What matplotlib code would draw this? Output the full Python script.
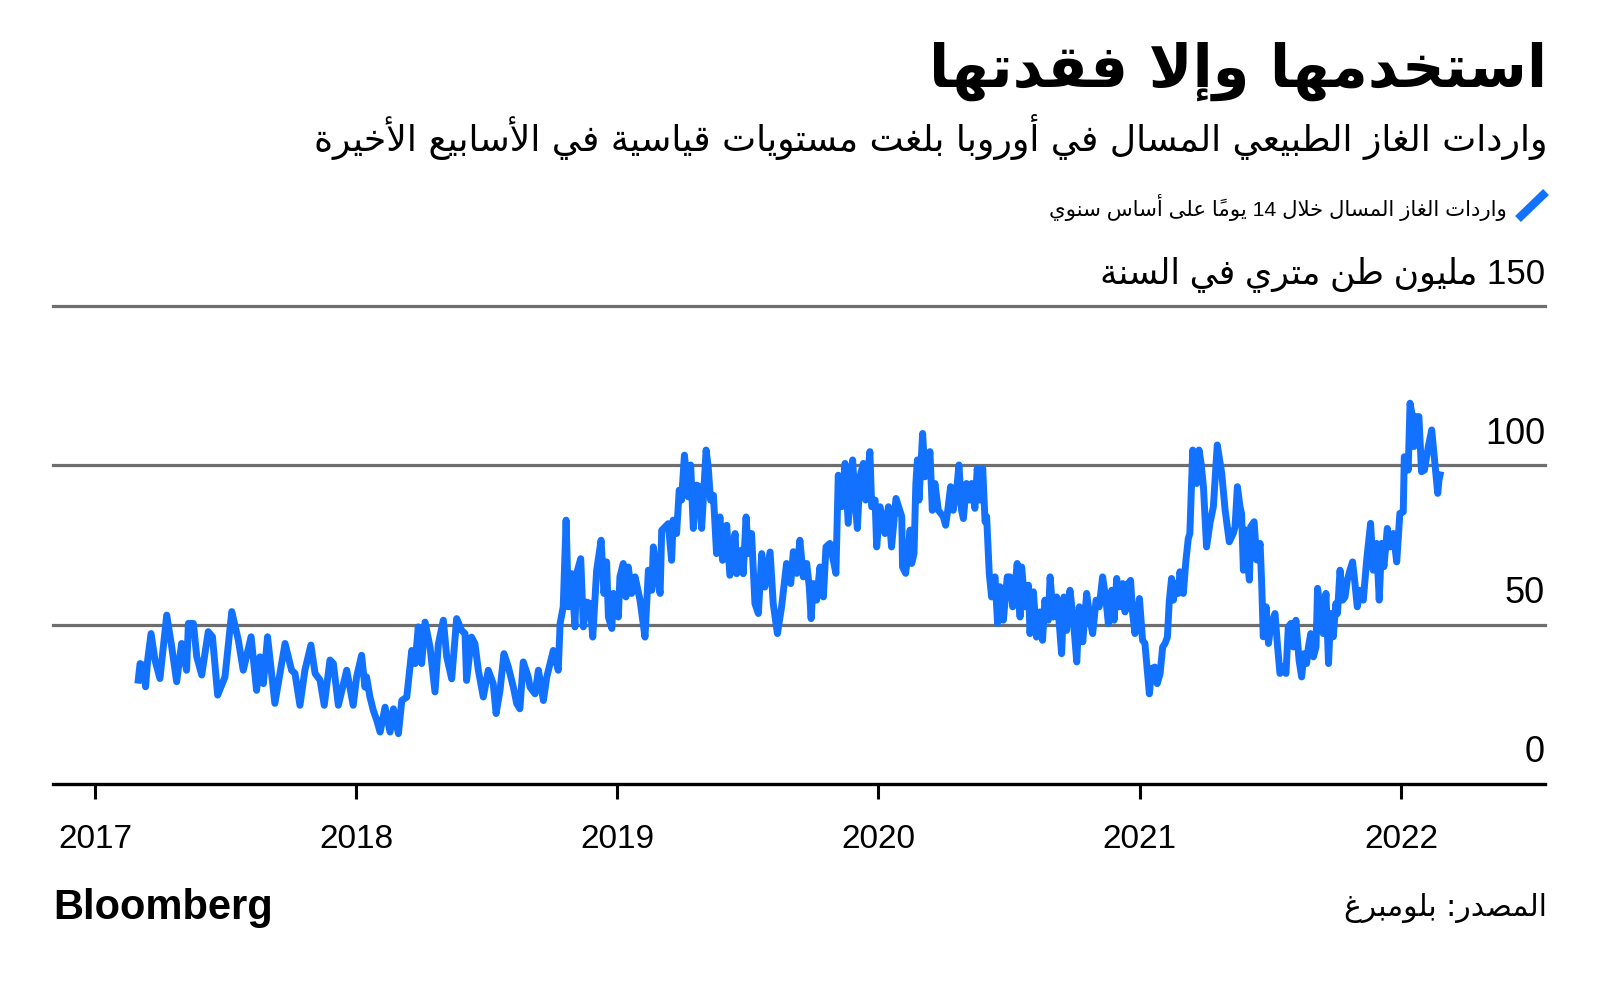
import matplotlib
matplotlib.use("Agg")
import matplotlib.pyplot as plt
import matplotlib.transforms as mtransforms
from matplotlib.lines import Line2D

# Данные: годы (десятичные) и значения, млн т в год
d17 = [2017.166, 2017.173, 2017.185, 2017.194, 2017.202, 2017.215, 2017.230, 2017.249, 2017.275, 2017.294,
       2017.313, 2017.332, 2017.351, 2017.358, 2017.377, 2017.390, 2017.409, 2017.434, 2017.450, 2017.470,
       2017.498, 2017.524, 2017.549, 2017.568, 2017.598, 2017.619, 2017.632, 2017.645, 2017.661, 2017.689,
       2017.728, 2017.753, 2017.766, 2017.785, 2017.804, 2017.827, 2017.843, 2017.862, 2017.878, 2017.900,
       2017.913, 2017.932, 2017.964, 2017.989]
v17 = [32.6, 37.8, 37.3, 30.5, 38.9, 47.2, 38.9, 33.1, 53.0, 43.1,
       32.1, 44.1, 35.7, 50.4, 50.4, 39.9, 34.2, 47.8, 46.2, 27.9,
       33.6, 54.1, 45.2, 35.7, 46.2, 29.4, 39.9, 31.5, 46.2, 25.3,
       44.1, 35.7, 34.7, 24.7, 35.7, 43.6, 34.7, 32.6, 24.7, 38.9,
       37.8, 24.7, 35.7, 24.7]

d18 = [2018.002, 2018.021, 2018.034, 2018.040, 2018.053, 2018.066, 2018.079, 2018.092, 2018.111, 2018.130,
       2018.143, 2018.162, 2018.175, 2018.194, 2018.213, 2018.226, 2018.238, 2018.251, 2018.264, 2018.283,
       2018.302, 2018.315, 2018.334, 2018.347, 2018.366, 2018.385, 2018.404, 2018.417, 2018.423, 2018.442,
       2018.455, 2018.468, 2018.487, 2018.506, 2018.525, 2018.536, 2018.551, 2018.566, 2018.583, 2018.602,
       2018.615, 2018.627, 2018.640, 2018.659, 2018.666, 2018.685, 2018.698, 2018.717, 2018.730, 2018.755,
       2018.774, 2018.781, 2018.793, 2018.804, 2018.813, 2018.825, 2018.838, 2018.844, 2018.860, 2018.870,
       2018.883, 2018.896, 2018.906, 2018.921, 2018.938, 2018.949, 2018.959, 2018.966, 2018.979, 2018.985]
v18 = [33.6, 40.4, 30.4, 33.6, 27.3, 23.1, 20.0, 16.3, 24.1, 16.3,
       23.6, 15.8, 26.2, 27.3, 41.9, 37.8, 49.3, 37.8, 50.8, 43.0,
       28.9, 44.0, 51.4, 39.9, 33.0, 51.9, 48.2, 47.2, 32.5, 46.1,
       44.0, 35.7, 27.3, 35.7, 31.5, 22.1, 29.4, 40.9, 36.7, 30.4,
       25.2, 23.6, 38.3, 33.6, 30.4, 28.3, 35.7, 26.2, 33.6, 41.9,
       35.7, 50.3, 55.6, 82.8, 55.6, 66.0, 49.3, 66.0, 70.7, 49.3,
       57.1, 56.6, 46.1, 67.1, 76.5, 59.8, 69.7, 52.4, 48.8, 59.8]

d19 = [2019.004, 2019.010, 2019.023, 2019.033, 2019.042, 2019.055, 2019.068, 2019.087, 2019.106, 2019.119,
       2019.132, 2019.138, 2019.151, 2019.164, 2019.170, 2019.183, 2019.195, 2019.208, 2019.214, 2019.227,
       2019.237, 2019.246, 2019.257, 2019.272, 2019.281, 2019.291, 2019.304, 2019.314, 2019.323, 2019.329,
       2019.340, 2019.348, 2019.357, 2019.368, 2019.380, 2019.393, 2019.403, 2019.419, 2019.431, 2019.451,
       2019.457, 2019.476, 2019.482, 2019.493, 2019.502, 2019.514, 2019.527, 2019.540, 2019.553, 2019.565,
       2019.585, 2019.597, 2019.613, 2019.629, 2019.648, 2019.664, 2019.674, 2019.687, 2019.699, 2019.712,
       2019.725, 2019.735, 2019.742, 2019.750, 2019.763, 2019.776, 2019.789, 2019.799, 2019.814, 2019.827,
       2019.837, 2019.846, 2019.859, 2019.872, 2019.884, 2019.901, 2019.910, 2019.919, 2019.929, 2019.942,
       2019.951, 2019.967, 2019.974, 2019.987, 2019.993]
v19 = [52.4, 65.0, 69.2, 58.7, 68.1, 59.8, 65.0, 57.7, 46.1, 67.1,
       60.8, 74.4, 66.0, 59.8, 79.6, 80.7, 81.7, 70.2, 82.8, 78.6,
       92.2, 89.1, 103.2, 90.1, 100.1, 80.2, 93.8, 93.3, 80.2, 89.1,
       104.8, 99.5, 89.1, 90.6, 72.3, 83.8, 70.2, 81.2, 65.5, 78.6,
       66.0, 73.4, 66.0, 83.8, 72.3, 78.6, 56.6, 53.5, 72.3, 61.8,
       72.8, 56.6, 47.2, 55.6, 69.2, 62.9, 72.9, 66.1, 76.5, 65.0,
       69.2, 61.9, 51.9, 62.9, 57.7, 68.1, 58.7, 74.4, 75.5, 70.2,
       66.1, 96.9, 87.0, 100.6, 81.8, 101.7, 89.1, 80.2, 96.4, 100.6,
       89.1, 104.3, 87.0, 89.1, 74.4]

d20 = [2020.006, 2020.025, 2020.038, 2020.050, 2020.067, 2020.089, 2020.092, 2020.104, 2020.121, 2020.127,
       2020.136, 2020.143, 2020.149, 2020.155, 2020.169, 2020.178, 2020.187, 2020.197, 2020.206, 2020.216,
       2020.229, 2020.248, 2020.257, 2020.267, 2020.276, 2020.286, 2020.299, 2020.308, 2020.318, 2020.325,
       2020.337, 2020.348, 2020.357, 2020.369, 2020.378, 2020.388, 2020.399, 2020.408, 2020.414, 2020.424,
       2020.433, 2020.446, 2020.456, 2020.465, 2020.478, 2020.493, 2020.503, 2020.514, 2020.523, 2020.531,
       2020.542, 2020.548, 2020.561, 2020.574, 2020.580, 2020.593, 2020.605, 2020.618, 2020.628, 2020.637,
       2020.650, 2020.657, 2020.669, 2020.682, 2020.692, 2020.701, 2020.710, 2020.720, 2020.733, 2020.746,
       2020.759, 2020.769, 2020.782, 2020.797, 2020.810, 2020.820, 2020.833, 2020.845, 2020.858, 2020.871,
       2020.880, 2020.893, 2020.902, 2020.912, 2020.922, 2020.935, 2020.944, 2020.956, 2020.965, 2020.973,
       2020.982, 2020.999]
v20 = [87.0, 78.6, 87.0, 74.4, 89.6, 83.9, 68.1, 66.1, 79.7, 69.2,
       72.3, 94.3, 101.7, 89.1, 110.0, 96.4, 99.6, 104.3, 85.9, 94.3,
       85.9, 83.9, 81.2, 87.0, 93.3, 85.9, 92.2, 100.1, 85.9, 83.3,
       94.3, 89.1, 94.3, 86.5, 99.0, 89.1, 99.0, 82.3, 83.9, 66.1,
       58.7, 65.0, 50.4, 61.9, 51.4, 65.0, 65.0, 55.6, 61.9, 69.2,
       52.4, 68.1, 55.6, 62.4, 47.2, 60.3, 46.1, 54.0, 45.1, 57.7,
       51.4, 65.0, 52.4, 58.7, 50.3, 40.9, 58.7, 48.2, 60.8, 51.4,
       38.3, 55.6, 44.6, 59.8, 51.4, 47.2, 57.7, 55.6, 65.0, 57.7,
       50.3, 60.8, 51.4, 64.5, 55.6, 62.9, 54.0, 62.9, 63.9, 53.5,
       47.2, 58.2]

d21 = [2021.011, 2021.020, 2021.029, 2021.037, 2021.046, 2021.058, 2021.067, 2021.078, 2021.088, 2021.097,
       2021.106, 2021.113, 2021.122, 2021.129, 2021.139, 2021.148, 2021.154, 2021.167, 2021.177, 2021.186,
       2021.192, 2021.203, 2021.212, 2021.218, 2021.227, 2021.235, 2021.244, 2021.256, 2021.269, 2021.282,
       2021.297, 2021.314, 2021.327, 2021.343, 2021.358, 2021.365, 2021.374, 2021.384, 2021.390, 2021.397,
       2021.406, 2021.413, 2021.420, 2021.425, 2021.438, 2021.448, 2021.461, 2021.467, 2021.473, 2021.484,
       2021.493, 2021.501, 2021.518, 2021.528, 2021.537, 2021.550, 2021.560, 2021.569, 2021.579, 2021.588,
       2021.598, 2021.610, 2021.620, 2021.629, 2021.639, 2021.646, 2021.655, 2021.665, 2021.675, 2021.681,
       2021.693, 2021.703, 2021.713, 2021.723, 2021.731, 2021.741, 2021.751, 2021.757, 2021.767, 2021.777,
       2021.786, 2021.795, 2021.805, 2021.815, 2021.824, 2021.833, 2021.843, 2021.856, 2021.869, 2021.884,
       2021.894, 2021.907, 2021.917, 2021.926, 2021.935, 2021.948, 2021.958, 2021.971, 2021.984, 2021.996]
v21 = [45.1, 44.1, 35.7, 28.3, 36.2, 36.7, 31.5, 34.6, 43.0, 44.1,
       46.1, 57.1, 64.5, 57.7, 62.9, 59.8, 66.6, 59.8, 70.2, 77.0,
       78.6, 104.8, 95.4, 94.3, 104.8, 100.6, 93.3, 74.4, 81.8, 87.0,
       106.4, 97.5, 86.0, 76.0, 78.6, 80.7, 93.3, 87.0, 84.9, 67.1,
       79.7, 69.2, 64.0, 80.7, 82.3, 70.3, 75.5, 62.9, 46.2, 55.6,
       44.1, 49.3, 53.5, 43.0, 34.7, 36.8, 34.7, 49.3, 50.4, 43.0,
       51.4, 38.9, 33.6, 40.9, 37.8, 43.0, 47.2, 39.9, 43.0, 61.4,
       53.5, 47.2, 59.8, 37.8, 53.5, 46.2, 56.6, 53.5, 67.1, 57.7,
       58.7, 64.0, 67.1, 69.7, 63.0, 55.6, 60.8, 57.7, 70.3, 81.8,
       67.1, 75.5, 57.7, 75.5, 68.2, 80.2, 74.4, 78.6, 69.7, 84.9]

d22 = [2022.009, 2022.013, 2022.022, 2022.028, 2022.035, 2022.044, 2022.050, 2022.060, 2022.069, 2022.079,
       2022.090, 2022.105, 2022.118, 2022.124, 2022.134, 2022.141, 2022.146, 2022.150]
v22 = [85.4, 102.7, 102.7, 98.5, 119.5, 115.3, 105.9, 115.3, 115.3, 98.0,
       98.5, 105.9, 111.1, 105.9, 97.5, 91.2, 95.4, 97.0]

years = [2017, 2018, 2019, 2020, 2021, 2022]
year_labels = ["2017", "2018", "2019", "2020", "2021", "2022"]
ytick_vals = [0, 50, 100, 150]
ytick_labels = ["0", "50", "100", "150 مليون طن متري في السنة"]

title = "استخدمها وإلا فقدتها"
subtitle = "واردات الغاز الطبيعي المسال في أوروبا بلغت مستويات قياسية في الأسابيع الأخيرة"
legend_label = "واردات الغاز المسال خلال 14 يوماً على أساس سنوي"
source = "المصدر: بلومبرغ"

BLUE = "#1272ff"
GRID = "#6e6e6e"

# Простая арабская форма букв (isolated, final, initial, medial)
FORMS = {
    "ا": ("\uFE8D", "\uFE8E", None, None),
    "أ": ("\uFE83", "\uFE84", None, None),
    "إ": ("\uFE87", "\uFE88", None, None),
    "ب": ("\uFE8F", "\uFE90", "\uFE91", "\uFE92"),
    "ة": ("\uFE93", "\uFE94", None, None),
    "ت": ("\uFE95", "\uFE96", "\uFE97", "\uFE98"),
    "خ": ("\uFEA5", "\uFEA6", "\uFEA7", "\uFEA8"),
    "د": ("\uFEA9", "\uFEAA", None, None),
    "ر": ("\uFEAD", "\uFEAE", None, None),
    "ز": ("\uFEAF", "\uFEB0", None, None),
    "س": ("\uFEB1", "\uFEB2", "\uFEB3", "\uFEB4"),
    "ص": ("\uFEB9", "\uFEBA", "\uFEBB", "\uFEBC"),
    "ط": ("\uFEC1", "\uFEC2", "\uFEC3", "\uFEC4"),
    "ع": ("\uFEC9", "\uFECA", "\uFECB", "\uFECC"),
    "غ": ("\uFECD", "\uFECE", "\uFECF", "\uFED0"),
    "ف": ("\uFED1", "\uFED2", "\uFED3", "\uFED4"),
    "ق": ("\uFED5", "\uFED6", "\uFED7", "\uFED8"),
    "ل": ("\uFEDD", "\uFEDE", "\uFEDF", "\uFEE0"),
    "م": ("\uFEE1", "\uFEE2", "\uFEE3", "\uFEE4"),
    "ن": ("\uFEE5", "\uFEE6", "\uFEE7", "\uFEE8"),
    "ه": ("\uFEE9", "\uFEEA", "\uFEEB", "\uFEEC"),
    "و": ("\uFEED", "\uFEEE", None, None),
    "ى": ("\uFEEF", "\uFEF0", None, None),
    "ي": ("\uFEF1", "\uFEF2", "\uFEF3", "\uFEF4"),
}
LAM_ALEF = {"ا": ("\uFEFB", "\uFEFC"), "أ": ("\uFEF7", "\uFEF8"), "إ": ("\uFEF9", "\uFEFA")}


def is_mark(c):
    return "\u064B" <= c <= "\u0652"


def shape(text):
    ch = list(text)
    n = len(ch)
    out = []
    i = 0
    while i < n:
        c = ch[i]
        if c not in FORMS:
            out.append(c)
            i += 1
            continue
        j = i - 1
        while j >= 0 and is_mark(ch[j]):
            j -= 1
        p = ch[j] if j >= 0 else None
        joins_prev = p in FORMS and FORMS[p][2] is not None
        k = i + 1
        while k < n and is_mark(ch[k]):
            k += 1
        nx = ch[k] if k < n else None
        if c == "ل" and nx in LAM_ALEF:
            iso, fin = LAM_ALEF[nx]
            out.append(fin if joins_prev else iso)
            i = k + 1
            continue
        iso, fin, ini, med = FORMS[c]
        joins_next = ini is not None and nx in FORMS
        if joins_prev and joins_next:
            out.append(med)
        elif joins_prev:
            out.append(fin)
        elif joins_next:
            out.append(ini)
        else:
            out.append(iso)
        i += 1
    return "".join(out)


def ar(text):
    clusters = []
    for c in shape(text):
        if is_mark(c) and clusters:
            clusters[-1] += c
        else:
            clusters.append(c)
    runs = []
    for cl in clusters:
        ltr = cl[0].isascii() and cl[0].isalnum()
        if ltr and runs and runs[-1][0]:
            runs[-1][1].append(cl)
        else:
            runs.append([ltr, [cl]])
    return "".join("".join(r[1]) for r in reversed(runs))


AR_FONT = ["DejaVu Sans"]
NUM_FONT = ["Liberation Sans", "DejaVu Sans"]

fig = plt.figure(figsize=(16, 9.88), dpi=100)
ax = fig.add_axes([53 / 1600, 204 / 988, (1545 - 53) / 1600, (682 - 204) / 988])

dates = d17 + d18 + d19 + d20 + d21 + d22
values = v17 + v18 + v19 + v20 + v21 + v22

for v in ytick_vals[1:]:
    ax.axhline(v, color=GRID, lw=2.3, zorder=1, clip_on=False)
ax.plot(dates, values, color=BLUE, lw=5.0, solid_joinstyle="round", zorder=3)

ax.set_xlim(2016.8396, 2022.5517)
ax.set_ylim(0, 150)
for s in ["top", "right", "left"]:
    ax.spines[s].set_visible(False)
ax.spines["bottom"].set_linewidth(2.4)
ax.spines["bottom"].set_color("black")
ax.spines["bottom"].set_zorder(4)

ax.set_yticks([])
ax.set_xticks(years)
ax.set_xticklabels(year_labels, family=NUM_FONT, fontsize=24)
ax.tick_params(axis="x", length=10.8, width=2.2, pad=18, color="black")

trans = mtransforms.offset_copy(
    mtransforms.blended_transform_factory(ax.transAxes, ax.transData), fig=fig, y=22.5, units="points"
)
for v, lab in zip(ytick_vals, ytick_labels):
    ax.text(1.0, v, ar(lab), transform=trans, ha="right", va="center",
            fontsize=26 if v < 150 else 25, family=NUM_FONT)

fig.text(1547 / 1600, 1 - 71 / 988, ar(title), ha="right", va="center",
         fontsize=42.5, fontweight="bold", family=AR_FONT)
fig.text(1547 / 1600, 1 - 137 / 988, ar(subtitle), ha="right", va="center",
         fontsize=26, family=AR_FONT)
fig.text(1507 / 1600, 1 - 207 / 988, ar(legend_label), ha="right", va="center",
         fontsize=15.3, family=NUM_FONT)
fig.add_artist(Line2D([1518 / 1600, 1546 / 1600], [1 - 219 / 988, 1 - 192 / 988],
                      color=BLUE, lw=6, solid_capstyle="butt"))

fig.text(53 / 1600, 1 - 908 / 988, "Bloomberg", ha="left", va="center",
         fontsize=30, fontweight="bold", family=["Liberation Sans"])
fig.text(1547 / 1600, 1 - 908 / 988, ar(source), ha="right", va="center",
         fontsize=21.4, family=AR_FONT)

fig.savefig("out.png", dpi=100)
